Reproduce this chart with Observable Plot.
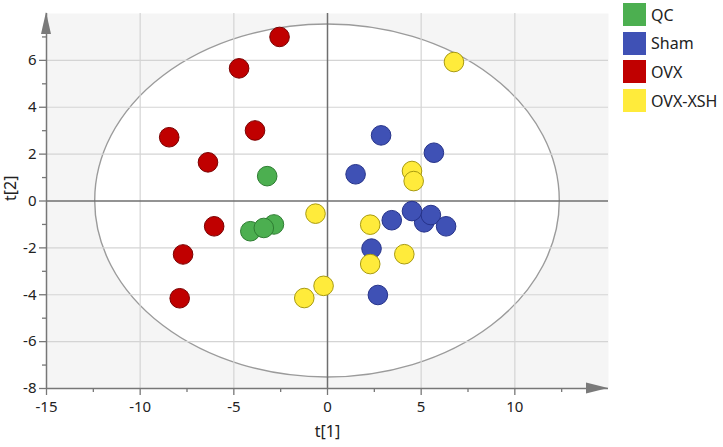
<!DOCTYPE html>
<html><head><meta charset="utf-8">
<script src="https://cdn.jsdelivr.net/npm/d3@7"></script>
<script src="https://cdn.jsdelivr.net/npm/@observablehq/plot@0.6"></script>
<style>
body{margin:0;background:#fff;font-family:"Noto Sans",sans-serif}
#wrap{position:relative;width:723px;height:447px}
#legend{position:absolute;left:623px;top:3px}
.row{display:flex;align-items:center;height:23px;margin-bottom:5.7px;font-size:16px;color:#222}
.sw{width:23px;height:23px;margin-right:5px;flex:none}
</style></head><body><div id="wrap"><div id="legend"></div></div>
<script>
// groups and colours
const groups = ["QC", "Sham", "OVX", "OVX-XSH"];
const fills = ["#4caf50", "#3f51b5", "#c00000", "#ffeb3b"];
const strokes = ["#2e7d32", "#26338a", "#7a0000", "#a89a10"];

// scores t[1], t[2]
const qcT1 = [-3.22, -2.86, -4.12, -3.40];
const qcT2 = [1.06, -1.00, -1.29, -1.15];
const shamT1 = [1.50, 2.86, 5.68, 3.43, 5.16, 4.51, 5.52, 6.33, 2.35, 2.69];
const shamT2 = [1.14, 2.80, 2.06, -0.82, -0.91, -0.43, -0.60, -1.08, -2.03, -4.01];
const ovxT1 = [-2.56, -4.72, -8.45, -3.87, -6.38, -6.05, -7.71, -7.89];
const ovxT2 = [7.00, 5.66, 2.72, 3.01, 1.65, -1.08, -2.28, -4.15];
const xshT1 = [6.75, 4.51, 4.60, -0.64, 2.28, 4.10, 2.28, -0.21, -1.24];
const xshT2 = [5.93, 1.28, 0.85, -0.54, -1.01, -2.27, -2.69, -3.62, -4.14];

// axis ticks
const xTicks = [-15, -10, -5, 0, 5, 10];
const xMinor = [-12.5, -7.5, -2.5, 2.5, 7.5, 12.5];
const yTicks = [-8, -6, -4, -2, 0, 2, 4, 6];
const yMinor = [-7, -5, -3, -1, 1, 3, 5, 7];
const xGrid = [-10, -5, 5, 10];
const yGrid = [-6, -4, -2, 2, 4, 6];

// Hotelling T2 ellipse semi-axes
const ellA = 12.4;
const ellB = 7.53;

const series = [[qcT1, qcT2], [shamT1, shamT2], [ovxT1, ovxT2], [xshT1, xshT2]];
const points = series.flatMap(([xs, ys], g) => xs.map((v, i) => ({t1: v, t2: ys[i], group: groups[g]})));

const ellipse = (index, {x, y}) => {
  const e = d3.create("svg:ellipse")
    .attr("cx", x(0)).attr("cy", y(0))
    .attr("rx", x(ellA) - x(0)).attr("ry", y(0) - y(ellB))
    .attr("fill", "#fff").attr("stroke", "#9b9b9b").attr("stroke-width", 1.4);
  return e.node();
};

const arrows = (index, {x, y}) => {
  const g = d3.create("svg:g").attr("fill", "#7a7a7a");
  const xr = x(15), yb = y(-8), xl = x(-15), yt = y(8);
  g.append("path").attr("d", `M${xr},${yb}L${xr - 22},${yb - 5.5}L${xr - 22},${yb + 5.5}Z`);
  g.append("path").attr("d", `M${xl},${yt - 1}L${xl - 5},${yt + 21}L${xl + 5},${yt + 21}Z`);
  return g.node();
};

const fmt = d => `${d}`;

const chart = Plot.plot({
  width: 723,
  height: 447,
  marginLeft: 46,
  marginRight: 115,
  marginTop: 13,
  marginBottom: 59,
  style: {fontFamily: "'Noto Sans', sans-serif", fontSize: "15px", color: "#222", background: "transparent"},
  x: {domain: [-15, 15]},
  y: {domain: [-8, 8]},
  color: {domain: groups, range: fills},
  marks: [
    Plot.frame({fill: "#f5f5f5", stroke: null}),
    ellipse,
    Plot.gridX(xGrid, {stroke: "#d4d4d4", strokeOpacity: 1, strokeWidth: 1.2}),
    Plot.gridY(yGrid, {stroke: "#d4d4d4", strokeOpacity: 1, strokeWidth: 1.2}),
    Plot.ruleX([0], {stroke: "#6f6f6f", strokeWidth: 1.5}),
    Plot.ruleY([0], {stroke: "#6f6f6f", strokeWidth: 1.5}),
    Plot.axisX({ticks: xMinor, tickSize: 4, text: null, label: null, stroke: "#777", strokeWidth: 1.3}),
    Plot.axisY({ticks: yMinor, tickSize: 4, text: null, label: null, stroke: "#777", strokeWidth: 1.3}),
    Plot.axisX({ticks: xTicks, tickFormat: fmt, tickSize: 7, tickPadding: 6, label: null, stroke: "#777", strokeWidth: 1.3, fill: "#222", fontSize: 15}),
    Plot.axisY({ticks: yTicks, tickFormat: fmt, tickSize: 7, tickPadding: 3, label: null, stroke: "#777", strokeWidth: 1.3, fill: "#222", fontSize: 15}),
    Plot.ruleX([-15], {stroke: "#777", strokeWidth: 1.5}),
    Plot.ruleY([-8], {stroke: "#777", strokeWidth: 1.5}),
    arrows,
    Plot.dot(points, {x: "t1", y: "t2", r: 9.8, fill: "group", stroke: d => strokes[groups.indexOf(d.group)], strokeWidth: 1, fillOpacity: 1}),
    Plot.text(["t[1]"], {frameAnchor: "bottom", dy: 48, fontSize: 16, fill: "#222"}),
    Plot.text(["t[2]"], {frameAnchor: "left", dx: -36, rotate: -90, fontSize: 16, fill: "#222"})
  ]
});

document.getElementById("wrap").prepend(chart);
const legend = document.getElementById("legend");
groups.forEach((g, i) => {
  const row = document.createElement("div");
  row.className = "row";
  row.innerHTML = `<div class="sw" style="background:${fills[i]}"></div><span>${g}</span>`;
  legend.appendChild(row);
});
</script>
</body></html>
